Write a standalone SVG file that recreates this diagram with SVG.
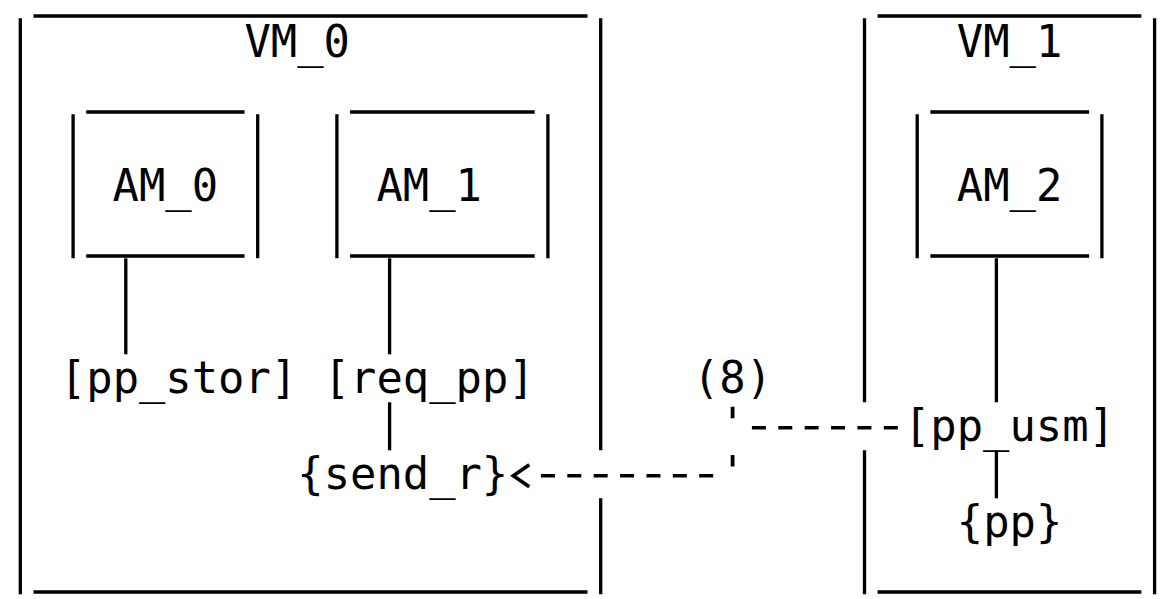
<svg xmlns="http://www.w3.org/2000/svg" width="1166" height="599" viewBox="0 0 1166 599">
  <style>
    .bg { fill: #ffffff; }
    .txt { font-family: "DejaVu Sans Mono", "Liberation Mono", monospace; font-size: 43.8px; fill: #000000; }
    .frame { fill: none; stroke: #000000; stroke-width: 3.3; stroke-linecap: butt; }
    .link { fill: none; stroke: #000000; stroke-width: 3.3; }
    .dash { fill: none; stroke: #000000; stroke-width: 3.4; stroke-dasharray: 14 12.38; }
    .tick { fill: none; stroke: #000000; stroke-width: 3.8; }
  </style>
  <defs>
    <marker id="lt" markerUnits="userSpaceOnUse" viewBox="0 -14 34 28" refX="0" refY="0" markerWidth="34" markerHeight="28" orient="auto" overflow="visible">
      <path d="M11.6 -11 L27.6 0 L11.6 11" fill="none" stroke="#000000" stroke-width="3.6" stroke-linejoin="miter"/>
    </marker>
  </defs>
  <rect class="bg" x="0" y="0" width="1166" height="599"/>

  <g id="vm0">
    <path class="frame" d="M33.5 16 H587.5 M33.5 592 H587.5 M20.3 18.3 V594.3 M600.7 18.3 V450.3 M600.7 498.3 V594.3"/>
    <text class="txt" x="244.5" y="56.7">VM_0</text>
  </g>
  <g id="vm1">
    <path class="frame" d="M877.6 16 H1141.4 M877.6 592 H1141.4 M864.5 18.3 V402.3 M864.5 450.3 V594.3 M1154.6 18.3 V594.3"/>
    <text class="txt" x="956.8" y="56.7">VM_1</text>
  </g>
  <g id="am0">
    <path class="frame" d="M86.2 112 H244.5 M86.2 256 H244.5 M73.1 114.3 V258.3 M257.7 114.3 V258.3"/>
    <text class="txt" x="112.6" y="200.7">AM_0</text>
  </g>
  <g id="am1">
    <path class="frame" d="M350 112 H534.7 M350 256 H534.7 M336.9 114.3 V258.3 M547.9 114.3 V258.3"/>
    <text class="txt" x="376.4" y="200.7">AM_1</text>
  </g>
  <g id="am2">
    <path class="frame" d="M930.4 112 H1089.1 M930.4 256 H1089.1 M917.2 114.3 V258.3 M1101.9 114.3 V258.3"/>
    <text class="txt" x="956.8" y="200.7">AM_2</text>
  </g>
  <g id="pp_stor">
    <text class="txt" x="59.9" y="392.7">[pp_stor]</text>
  </g>
  <g id="req_pp">
    <text class="txt" x="323.7" y="392.7">[req_pp]</text>
  </g>
  <g id="send_r">
    <text class="txt" x="297.3" y="488.7">{send_r}</text>
  </g>
  <g id="pp_usm">
    <text class="txt" x="904" y="440.7">[pp_usm]</text>
  </g>
  <g id="pp">
    <text class="txt" x="956.8" y="536.7">{pp}</text>
  </g>

  <g id="connectors">
    <path class="link" d="M125.8 258.3 V354.3"/>
    <path class="link" d="M389.6 258.3 V354.3"/>
    <path class="link" d="M389.6 402.3 V450.3"/>
    <path class="link" d="M996.4 258.3 V402.3"/>
    <path class="link" d="M996.4 450.3 V498.3"/>
    <path class="dash" d="M897.8 427.7 H751.9"/>
    <path class="tick" d="M732.6 406.7 V418.3 M732.6 455 V466.5"/>
    <path class="dash" d="M713.2 475.7 H540.9" marker-end="url(#lt)"/>
    <text class="txt" x="693" y="392.7">(8)</text>
  </g>
</svg>
